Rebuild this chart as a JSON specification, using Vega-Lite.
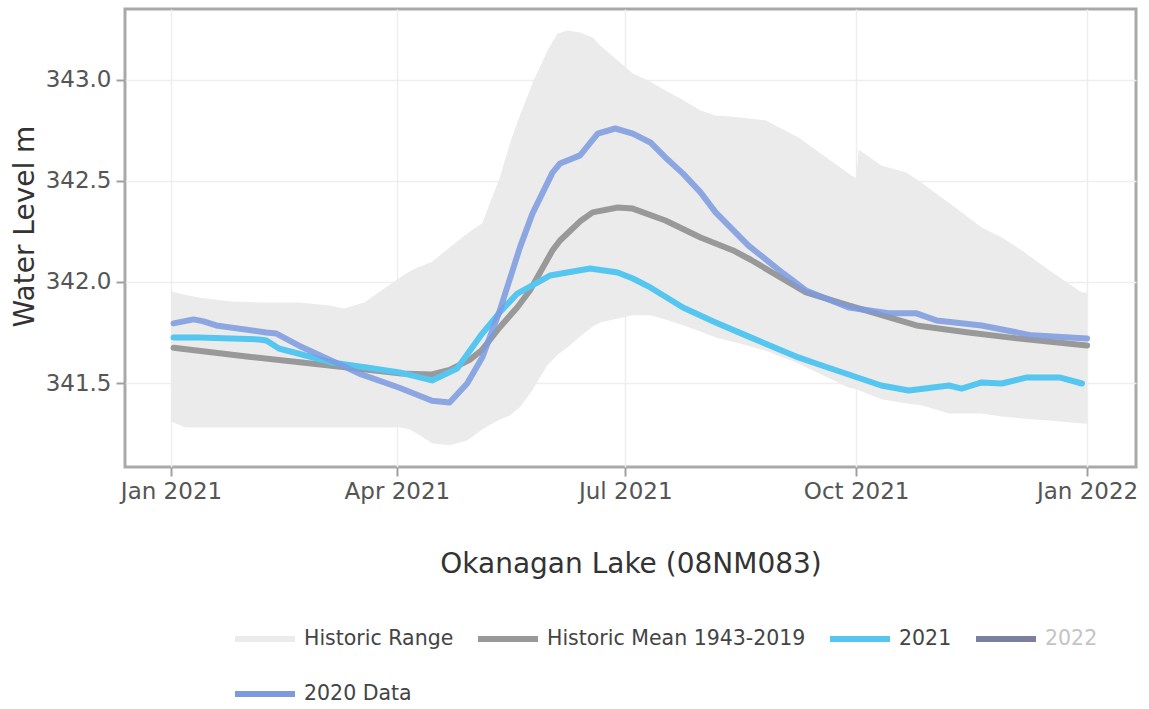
{
  "$schema": "https://vega.github.io/schema/vega-lite/v6.json",
  "width": 1011,
  "height": 458,
  "autosize": "none",
  "padding": {"left": 125, "top": 9, "right": 13, "bottom": 242},
  "background": "white",
  "config": {
    "view": {"stroke": "#a9a9a9", "strokeWidth": 3},
    "font": "DejaVu Sans"
  },
  "datasets": {
    "range": [
      {"date": "2021-01-01", "lower": 341.31, "upper": 341.953},
      {"date": "2021-01-07", "lower": 341.28, "upper": 341.935},
      {"date": "2021-01-12", "lower": 341.28, "upper": 341.923},
      {"date": "2021-01-25", "lower": 341.28, "upper": 341.904},
      {"date": "2021-02-05", "lower": 341.28, "upper": 341.899},
      {"date": "2021-02-21", "lower": 341.28, "upper": 341.899},
      {"date": "2021-03-05", "lower": 341.28, "upper": 341.884},
      {"date": "2021-03-11", "lower": 341.28, "upper": 341.869},
      {"date": "2021-03-19", "lower": 341.28, "upper": 341.899},
      {"date": "2021-03-27", "lower": 341.28, "upper": 341.968},
      {"date": "2021-04-02", "lower": 341.281, "upper": 342.02},
      {"date": "2021-04-06", "lower": 341.27, "upper": 342.052},
      {"date": "2021-04-09", "lower": 341.251, "upper": 342.07},
      {"date": "2021-04-15", "lower": 341.202, "upper": 342.1},
      {"date": "2021-04-22", "lower": 341.192, "upper": 342.171},
      {"date": "2021-04-29", "lower": 341.216, "upper": 342.24},
      {"date": "2021-05-05", "lower": 341.27, "upper": 342.29},
      {"date": "2021-05-09", "lower": 341.3, "upper": 342.42},
      {"date": "2021-05-12", "lower": 341.32, "upper": 342.516},
      {"date": "2021-05-16", "lower": 341.34, "upper": 342.685},
      {"date": "2021-05-20", "lower": 341.38, "upper": 342.823},
      {"date": "2021-05-25", "lower": 341.464, "upper": 342.981},
      {"date": "2021-05-31", "lower": 341.59, "upper": 343.145},
      {"date": "2021-06-04", "lower": 341.64, "upper": 343.229},
      {"date": "2021-06-08", "lower": 341.677, "upper": 343.244},
      {"date": "2021-06-13", "lower": 341.73, "upper": 343.234},
      {"date": "2021-06-18", "lower": 341.78, "upper": 343.209},
      {"date": "2021-06-21", "lower": 341.8, "upper": 343.17},
      {"date": "2021-06-28", "lower": 341.82, "upper": 343.095},
      {"date": "2021-07-04", "lower": 341.835, "upper": 343.031},
      {"date": "2021-07-11", "lower": 341.835, "upper": 342.99},
      {"date": "2021-07-17", "lower": 341.815, "upper": 342.947},
      {"date": "2021-07-24", "lower": 341.786, "upper": 342.9},
      {"date": "2021-07-31", "lower": 341.755, "upper": 342.848},
      {"date": "2021-08-06", "lower": 341.726, "upper": 342.823},
      {"date": "2021-08-16", "lower": 341.695, "upper": 342.813},
      {"date": "2021-08-26", "lower": 341.66, "upper": 342.799},
      {"date": "2021-09-08", "lower": 341.597, "upper": 342.715},
      {"date": "2021-09-28", "lower": 341.478, "upper": 342.537},
      {"date": "2021-10-01", "lower": 341.47, "upper": 342.512},
      {"date": "2021-10-02", "lower": 341.465, "upper": 342.655},
      {"date": "2021-10-11", "lower": 341.42, "upper": 342.576},
      {"date": "2021-10-21", "lower": 341.399, "upper": 342.542},
      {"date": "2021-10-27", "lower": 341.39, "upper": 342.492},
      {"date": "2021-11-07", "lower": 341.35, "upper": 342.39},
      {"date": "2021-11-10", "lower": 341.35, "upper": 342.363},
      {"date": "2021-11-20", "lower": 341.35, "upper": 342.269},
      {"date": "2021-11-28", "lower": 341.335, "upper": 342.22},
      {"date": "2021-12-06", "lower": 341.325, "upper": 342.156},
      {"date": "2021-12-17", "lower": 341.315, "upper": 342.057},
      {"date": "2021-12-30", "lower": 341.3, "upper": 341.948},
      {"date": "2022-01-01", "lower": 341.3, "upper": 341.948}
    ],
    "lines": [
      {"series": "Historic Mean 1943-2019", "date": "2021-01-02", "value": 341.675},
      {"series": "Historic Mean 1943-2019", "date": "2021-02-01", "value": 341.63},
      {"series": "Historic Mean 1943-2019", "date": "2021-03-06", "value": 341.586},
      {"series": "Historic Mean 1943-2019", "date": "2021-04-02", "value": 341.548},
      {"series": "Historic Mean 1943-2019", "date": "2021-04-15", "value": 341.543},
      {"series": "Historic Mean 1943-2019", "date": "2021-04-22", "value": 341.565},
      {"series": "Historic Mean 1943-2019", "date": "2021-04-30", "value": 341.615},
      {"series": "Historic Mean 1943-2019", "date": "2021-05-05", "value": 341.665},
      {"series": "Historic Mean 1943-2019", "date": "2021-05-12", "value": 341.776},
      {"series": "Historic Mean 1943-2019", "date": "2021-05-19", "value": 341.875},
      {"series": "Historic Mean 1943-2019", "date": "2021-05-24", "value": 341.958},
      {"series": "Historic Mean 1943-2019", "date": "2021-06-02", "value": 342.156},
      {"series": "Historic Mean 1943-2019", "date": "2021-06-05", "value": 342.205},
      {"series": "Historic Mean 1943-2019", "date": "2021-06-13", "value": 342.3},
      {"series": "Historic Mean 1943-2019", "date": "2021-06-18", "value": 342.344},
      {"series": "Historic Mean 1943-2019", "date": "2021-06-28", "value": 342.368},
      {"series": "Historic Mean 1943-2019", "date": "2021-07-04", "value": 342.363},
      {"series": "Historic Mean 1943-2019", "date": "2021-07-17", "value": 342.304},
      {"series": "Historic Mean 1943-2019", "date": "2021-07-31", "value": 342.22},
      {"series": "Historic Mean 1943-2019", "date": "2021-08-13", "value": 342.156},
      {"series": "Historic Mean 1943-2019", "date": "2021-08-20", "value": 342.11},
      {"series": "Historic Mean 1943-2019", "date": "2021-09-11", "value": 341.948},
      {"series": "Historic Mean 1943-2019", "date": "2021-09-28", "value": 341.884},
      {"series": "Historic Mean 1943-2019", "date": "2021-10-25", "value": 341.785},
      {"series": "Historic Mean 1943-2019", "date": "2021-11-14", "value": 341.751},
      {"series": "Historic Mean 1943-2019", "date": "2021-12-04", "value": 341.721},
      {"series": "Historic Mean 1943-2019", "date": "2022-01-01", "value": 341.686},

      {"series": "2021", "date": "2021-01-02", "value": 341.726},
      {"series": "2021", "date": "2021-01-12", "value": 341.726},
      {"series": "2021", "date": "2021-02-05", "value": 341.716},
      {"series": "2021", "date": "2021-02-08", "value": 341.711},
      {"series": "2021", "date": "2021-02-13", "value": 341.671},
      {"series": "2021", "date": "2021-03-06", "value": 341.602},
      {"series": "2021", "date": "2021-03-20", "value": 341.577},
      {"series": "2021", "date": "2021-04-02", "value": 341.553},
      {"series": "2021", "date": "2021-04-15", "value": 341.513},
      {"series": "2021", "date": "2021-04-25", "value": 341.572},
      {"series": "2021", "date": "2021-05-05", "value": 341.745},
      {"series": "2021", "date": "2021-05-12", "value": 341.85},
      {"series": "2021", "date": "2021-05-19", "value": 341.943},
      {"series": "2021", "date": "2021-06-01", "value": 342.032},
      {"series": "2021", "date": "2021-06-17", "value": 342.067},
      {"series": "2021", "date": "2021-06-28", "value": 342.047},
      {"series": "2021", "date": "2021-07-04", "value": 342.017},
      {"series": "2021", "date": "2021-07-11", "value": 341.973},
      {"series": "2021", "date": "2021-07-24", "value": 341.874},
      {"series": "2021", "date": "2021-08-06", "value": 341.8},
      {"series": "2021", "date": "2021-08-19", "value": 341.731},
      {"series": "2021", "date": "2021-09-08", "value": 341.627},
      {"series": "2021", "date": "2021-09-15", "value": 341.597},
      {"series": "2021", "date": "2021-10-11", "value": 341.488},
      {"series": "2021", "date": "2021-10-22", "value": 341.463},
      {"series": "2021", "date": "2021-11-07", "value": 341.488},
      {"series": "2021", "date": "2021-11-12", "value": 341.473},
      {"series": "2021", "date": "2021-11-20", "value": 341.503},
      {"series": "2021", "date": "2021-11-28", "value": 341.498},
      {"series": "2021", "date": "2021-12-08", "value": 341.528},
      {"series": "2021", "date": "2021-12-21", "value": 341.528},
      {"series": "2021", "date": "2021-12-30", "value": 341.498},

      {"series": "2020 Data", "date": "2021-01-02", "value": 341.795},
      {"series": "2020 Data", "date": "2021-01-10", "value": 341.815},
      {"series": "2020 Data", "date": "2021-01-14", "value": 341.805},
      {"series": "2020 Data", "date": "2021-01-19", "value": 341.785},
      {"series": "2020 Data", "date": "2021-02-08", "value": 341.75},
      {"series": "2020 Data", "date": "2021-02-12", "value": 341.745},
      {"series": "2020 Data", "date": "2021-02-21", "value": 341.685},
      {"series": "2020 Data", "date": "2021-03-06", "value": 341.611},
      {"series": "2020 Data", "date": "2021-03-17", "value": 341.547},
      {"series": "2020 Data", "date": "2021-04-02", "value": 341.477},
      {"series": "2020 Data", "date": "2021-04-15", "value": 341.413},
      {"series": "2020 Data", "date": "2021-04-22", "value": 341.404},
      {"series": "2020 Data", "date": "2021-04-29", "value": 341.498},
      {"series": "2020 Data", "date": "2021-05-05", "value": 341.626},
      {"series": "2020 Data", "date": "2021-05-12", "value": 341.859},
      {"series": "2020 Data", "date": "2021-05-20", "value": 342.17},
      {"series": "2020 Data", "date": "2021-05-25", "value": 342.338},
      {"series": "2020 Data", "date": "2021-06-02", "value": 342.541},
      {"series": "2020 Data", "date": "2021-06-05", "value": 342.586},
      {"series": "2020 Data", "date": "2021-06-13", "value": 342.626},
      {"series": "2020 Data", "date": "2021-06-20", "value": 342.734},
      {"series": "2020 Data", "date": "2021-06-27", "value": 342.759},
      {"series": "2020 Data", "date": "2021-07-04", "value": 342.734},
      {"series": "2020 Data", "date": "2021-07-11", "value": 342.69},
      {"series": "2020 Data", "date": "2021-07-17", "value": 342.616},
      {"series": "2020 Data", "date": "2021-07-24", "value": 342.536},
      {"series": "2020 Data", "date": "2021-07-31", "value": 342.443},
      {"series": "2020 Data", "date": "2021-08-06", "value": 342.344},
      {"series": "2020 Data", "date": "2021-08-19", "value": 342.181},
      {"series": "2020 Data", "date": "2021-09-02", "value": 342.042},
      {"series": "2020 Data", "date": "2021-09-11", "value": 341.958},
      {"series": "2020 Data", "date": "2021-09-28", "value": 341.874},
      {"series": "2020 Data", "date": "2021-10-14", "value": 341.845},
      {"series": "2020 Data", "date": "2021-10-25", "value": 341.845},
      {"series": "2020 Data", "date": "2021-11-02", "value": 341.81},
      {"series": "2020 Data", "date": "2021-11-20", "value": 341.785},
      {"series": "2020 Data", "date": "2021-12-10", "value": 341.736},
      {"series": "2020 Data", "date": "2022-01-01", "value": 341.721}
    ]
  },
  "encoding": {
    "x": {
      "field": "date",
      "type": "temporal",
      "scale": {
        "type": "utc",
        "domain": [
          {"year": 2020, "month": 12, "date": 13, "hours": 16, "utc": true},
          {"year": 2022, "month": 1, "date": 20, "hours": 12, "utc": true}
        ]
      },
      "axis": {
        "title": "Okanagan Lake (08NM083)",
        "values": [
          {"year": 2021, "month": 1, "date": 1, "utc": true},
          {"year": 2021, "month": 4, "date": 1, "utc": true},
          {"year": 2021, "month": 7, "date": 1, "utc": true},
          {"year": 2021, "month": 10, "date": 1, "utc": true},
          {"year": 2022, "month": 1, "date": 1, "utc": true}
        ],
        "labelExpr": "utcFormat(datum.value, '%b %Y')",
        "domain": false,
        "grid": true,
        "gridColor": "#eeeeee",
        "gridWidth": 1.5,
        "ticks": true,
        "tickColor": "#a0a0a0",
        "tickWidth": 2,
        "tickSize": 9,
        "labelFont": "DejaVu Sans",
        "labelFontSize": 23,
        "labelColor": "#555555",
        "labelPadding": 4,
        "labelFlush": false,
        "labelOverlap": false,
        "titleFont": "DejaVu Sans",
        "titleFontSize": 28,
        "titleFontWeight": "normal",
        "titleColor": "#333333",
        "titleBaseline": "middle",
        "titleY": 97
      }
    }
  },
  "layer": [
    {
      "data": {"name": "range"},
      "transform": [{"calculate": "'Historic Range'", "as": "series"}],
      "mark": {"type": "area", "opacity": 1},
      "encoding": {
        "y": {
          "field": "lower",
          "type": "quantitative",
          "scale": {"domain": [341.085, 343.35], "zero": false, "nice": false},
          "axis": {
            "title": "Water Level m",
            "values": [341.5, 342, 342.5, 343],
            "format": ".1f",
            "domain": false,
            "grid": true,
            "gridColor": "#eeeeee",
            "gridWidth": 1.5,
            "tickColor": "#a0a0a0",
            "tickWidth": 2,
            "tickSize": 9,
            "labelFont": "DejaVu Sans",
            "labelFontSize": 23,
            "labelColor": "#555555",
            "labelPadding": 5,
            "titleFont": "DejaVu Sans",
            "titleFontSize": 28,
            "titleFontWeight": "normal",
            "titleColor": "#333333",
            "titleAngle": 270,
            "titleBaseline": "middle",
            "titleAlign": "center",
            "titleX": -100,
            "titleY": 217
          }
        },
        "y2": {"field": "upper"},
        "color": {
          "field": "series",
          "type": "nominal",
          "scale": {
            "domain": ["Historic Range", "Historic Mean 1943-2019", "2021", "2022", "2020 Data"],
            "range": ["#ebebeb", "#999999", "#55c6ef", "#7b7fa0", "#7b9ae0"]
          },
          "legend": {
            "orient": "none",
            "legendX": 107,
            "legendY": 597,
            "direction": "horizontal",
            "columns": 4,
            "title": null,
            "padding": 0,
            "symbolType": "stroke",
            "symbolSize": 3600,
            "symbolStrokeWidth": 6,
            "symbolOffset": 0,
            "labelFont": "DejaVu Sans",
            "labelFontSize": 20.5,
            "labelColor": {"expr": "datum.value === '2022' ? '#c4c4c4' : '#444444'"},
            "labelOffset": 6,
            "labelLimit": 400,
            "columnPadding": 12,
            "rowPadding": 10,
            "encode": {
              "symbols": {
                "enter": {
                  "strokeWidth": {"signal": "datum.value === 'Historic Range' ? 12 : datum.value === '2022' ? 4 : 6"}
                },
                "update": {
                  "fill": {"value": "transparent"},
                  "stroke": {"scale": "color", "field": "value"},
                  "strokeWidth": {"signal": "datum.value === 'Historic Range' ? 12 : datum.value === '2022' ? 4 : 6"},
                  "opacity": {"value": 1}
                }
              }
            }
          }
        }
      }
    },
    {
      "data": {"name": "lines"},
      "transform": [{"filter": "datum.series === 'Historic Mean 1943-2019'"}],
      "mark": {"type": "line", "strokeWidth": 6, "strokeJoin": "round", "strokeCap": "round"},
      "encoding": {
        "y": {"field": "value", "type": "quantitative"},
        "color": {"field": "series", "type": "nominal"}
      }
    },
    {
      "data": {"name": "lines"},
      "transform": [{"filter": "datum.series === '2021'"}],
      "mark": {"type": "line", "strokeWidth": 6, "strokeJoin": "round", "strokeCap": "round"},
      "encoding": {
        "y": {"field": "value", "type": "quantitative"},
        "color": {"field": "series", "type": "nominal"}
      }
    },
    {
      "data": {"name": "lines"},
      "transform": [{"filter": "datum.series === '2020 Data'"}],
      "mark": {"type": "line", "strokeWidth": 6, "strokeJoin": "round", "strokeCap": "round", "opacity": 0.85},
      "encoding": {
        "y": {"field": "value", "type": "quantitative"},
        "color": {"field": "series", "type": "nominal"}
      }
    }
  ]
}
